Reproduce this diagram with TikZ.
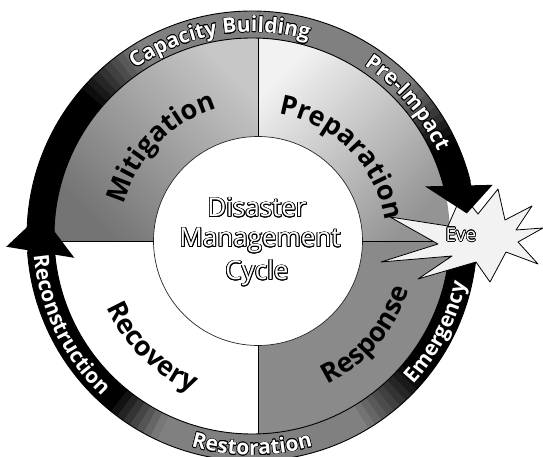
\documentclass[tikz,border=0pt]{standalone}
\usepackage{fontspec}
\setmainfont{Open Sans}
\usepackage{contour}
\contourlength{0.6pt}
\usetikzlibrary{decorations.text}

% white letters with a thin black outline
\newcommand\outlinedchar[1]{\contour{black}{#1}}

\tikzset{
  seglabel/.style={decorate, decoration={text along path, text align=center,
      text={|\fontsize{27}{27}\selectfont\bfseries|#1}}},
  ringlabel/.style={decorate, decoration={text effects along path, text={#1},
      text align=center, text effects/.cd, text along path,
      character command=\outlinedchar,
      every character/.style={font=\fontsize{21}{21}\selectfont\bfseries, text=white}}},
  divider/.style={draw=black, line width=0.8pt},
  ringedge/.style={draw=black, line width=0.9pt},
  titletext/.style={font=\fontsize{26}{26}\selectfont, text=white, anchor=base},
}

\begin{document}
\begin{tikzpicture}[x=1pt, y=1pt, line join=round]
\useasboundingbox (0,0) rectangle (543,457);
\fill[white] (0,0) rectangle (543,457);

\coordinate (C) at (252,221);   % centre of the outer ring
\coordinate (I) at (258,216);   % centre of the hub

% ---- the four phase sectors ----
\begin{scope}
  \clip (C) circle[radius=198];
  \shade[top color=black!55, bottom color=black!22, shading angle=135] (50,216) rectangle (258,420);
  \shade[top color=black!42, bottom color=black!5, shading angle=225] (258,216) rectangle (452,420);
  \fill[black!46] (258,216) rectangle (452,20);
\end{scope}

% ---- hub ----
\fill[white] (I) circle[radius=104.5];
\draw[black!85, line width=0.7pt] (I) circle[radius=104.5];

% ---- sector dividers ----
\draw[divider] (258,320.5) -- (258,419);
\draw[divider] (258,111.5) -- (258,23);
\draw[divider] (153.5,216) -- (54,216);
\draw[divider] (362.5,216) -- (450,216);

% ---- circular arrows ----
\begin{scope}[shift={(C)}]
  \foreach \a in {182,180,...,14} {
    \pgfmathsetmacro\lv{max(50,min(100,50+max(0,\a-120)*2.5+max(0,45-\a)*2.5))}
    \fill[black!\lv] (\a+1.1:198) arc[start angle=\a+1.1, end angle=\a-1.1, radius=198]
      -- (\a-1.1:225) arc[start angle=\a-1.1, end angle=\a+1.1, radius=225] -- cycle;
  }
  \foreach \a in {-4,-6,...,-176} {
    \pgfmathsetmacro\lv{max(50,min(100,50+max(0,\a+60)*2.5+max(0,-115-\a)*3.3))}
    \fill[black!\lv] (\a+1.1:198) arc[start angle=\a+1.1, end angle=\a-1.1, radius=198]
      -- (\a-1.1:225) arc[start angle=\a-1.1, end angle=\a+1.1, radius=225] -- cycle;
  }
  \draw[ringedge] (182:198) arc[start angle=182, end angle=14, radius=198];
  \draw[ringedge] (182:225) arc[start angle=182, end angle=14, radius=225];
  \draw[ringedge] (-4:198) arc[start angle=-4, end angle=-176, radius=198];
  \draw[ringedge] (-4:225) arc[start angle=-4, end angle=-176, radius=225];

  % labels on the ring
  \path[ringlabel={Capacity Building}] (150:204) arc[start angle=150, end angle=49, radius=204];
  \path[ringlabel={Pre-Impact}] (70:204) arc[start angle=70, end angle=11, radius=204];
  \path[ringlabel={Emergency}] (-60:219) arc[start angle=-60, end angle=5, radius=219];
  \path[ringlabel={Restoration}] (235:219) arc[start angle=235, end angle=305, radius=219];
  \path[ringlabel={Reconstruction}] (163:219) arc[start angle=163, end angle=249, radius=219];

  % head of the lower arrow
  \fill[black] (187:179) -- (182.5:246) -- (174:212) -- cycle;
\end{scope}

% ---- sector labels ----
\begin{scope}[shift={(I)}]
  \path[seglabel={Mitigation}] (181:139) arc[start angle=181, end angle=91, radius=139];
  \path[seglabel={Preparation}] (100:129) arc[start angle=100, end angle=-10, radius=129];
  \path[seglabel={Response}] (-90:159) arc[start angle=-90, end angle=8, radius=159];
  \path[seglabel={Recovery}] (180:165) arc[start angle=180, end angle=270, radius=165];
\end{scope}

% ---- title in the hub ----
\contourlength{0.9pt}
\node[titletext] (title1) at (257,240) {\contour{black}{Disaster}};
\node[titletext] (title2) at (260,210) {\contour{black}{Management}};
\node[titletext] (title3) at (257,177) {\contour{black}{Cycle}};

% ---- impact burst ----
\filldraw[fill=black!5, draw=black, line width=0.8pt]
  (498,268) -- (505,237) -- (532,251) -- (516,227) -- (543,229) -- (518,215)
  -- (538,193) -- (506,205) -- (490,175) -- (476,195) -- (418,178) -- (452,201)
  -- (381,195) -- (438,213) -- (390,240) -- (448,231) -- (462,263) -- (478,243) -- cycle;
\contourlength{0.7pt}
\node[font=\fontsize{19}{19}\selectfont, text=white] (event) at (461,222) {\contour{black}{Eve}};

% head of the upper arrow
\begin{scope}[shift={(C)}]
  \fill[black] (16:180) -- (12:246) -- (6:216) -- cycle;
\end{scope}
\end{tikzpicture}
\end{document}
